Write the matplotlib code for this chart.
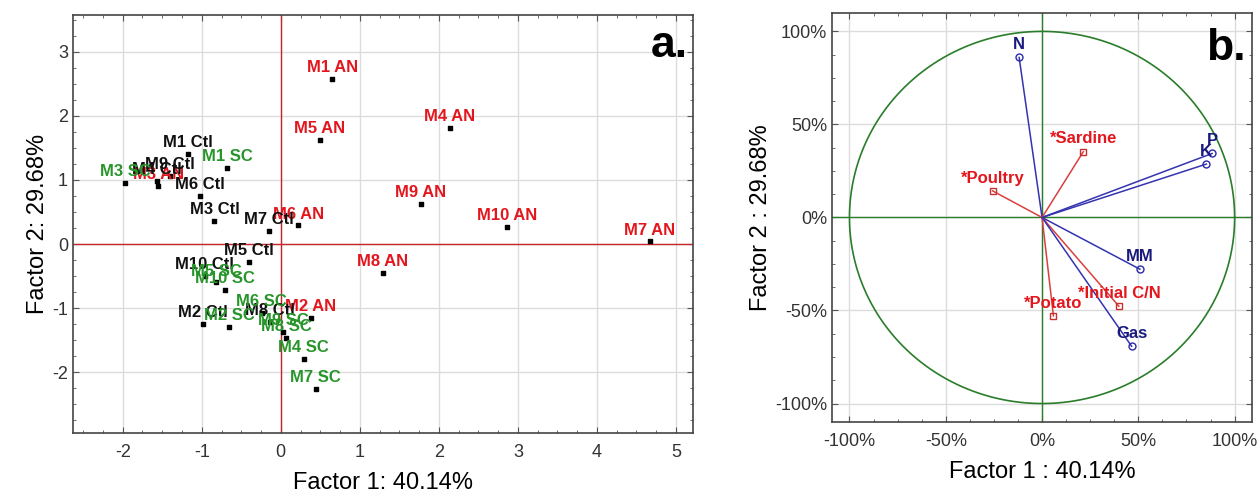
import numpy as np
import matplotlib
matplotlib.use('Agg')
import matplotlib.pyplot as plt
from matplotlib.ticker import FuncFormatter, AutoMinorLocator

plt.rcParams['font.family'] = ['Liberation Sans', 'DejaVu Sans']
plt.rcParams['axes.unicode_minus'] = False

# scores of the samples (panel a)
samples = ['M1 AN', 'M5 AN', 'M4 AN', 'M9 AN', 'M10 AN', 'M7 AN', 'M6 AN', 'M8 AN', 'M2 AN', 'M3 AN',
           'M1 Ctl', 'M9 Ctl', 'M4 Ctl', 'M6 Ctl', 'M3 Ctl', 'M7 Ctl', 'M5 Ctl', 'M10 Ctl', 'M2 Ctl', 'M8 Ctl',
           'M1 SC', 'M3 SC', 'M5 SC', 'M10 SC', 'M2 SC', 'M6 SC', 'M9 SC', 'M8 SC', 'M4 SC', 'M7 SC']
factor1 = [0.65, 0.49, 2.14, 1.77, 2.86, 4.67, 0.22, 1.29, 0.38, -1.55,
           -1.17, -1.40, -1.57, -1.02, -0.84, -0.15, -0.40, -0.96, -0.98, -0.14,
           -0.68, -1.97, -0.82, -0.71, -0.65, -0.24, 0.03, 0.07, 0.29, 0.44]
factor2 = [2.58, 1.63, 1.81, 0.63, 0.27, 0.04, 0.29, -0.45, -1.16, 0.91,
           1.40, 1.06, 0.98, 0.75, 0.36, 0.20, -0.28, -0.50, -1.25, -1.22,
           1.19, 0.95, -0.60, -0.72, -1.30, -1.08, -1.38, -1.46, -1.80, -2.27]
groups = ['AN'] * 10 + ['Ctl'] * 10 + ['SC'] * 10

# loadings of the variables (panel b)
variables = ['N', '*Sardine', '*Poultry', 'P', 'K', 'MM', '*Initial C/N', '*Potato', 'Gas']
load1 = [-0.119, 0.214, -0.257, 0.883, 0.853, 0.508, 0.399, 0.059, 0.465]
load2 = [0.86, 0.353, 0.143, 0.344, 0.287, -0.278, -0.477, -0.529, -0.692]
supplementary = [False, True, True, False, False, False, True, True, False]

group_colors = {'AN': '#e3161d', 'Ctl': '#111111', 'SC': '#27952a'}

fig = plt.figure(figsize=(12.57, 4.92), dpi=100)
ax1 = fig.add_axes([0.058, 0.12, 0.493, 0.85])
ax2 = fig.add_axes([0.662, 0.142, 0.334, 0.832])

# ---- panel a
ax1.grid(True, color='#dcdcdc', lw=1, zorder=0)
ax1.axvline(0, color='#c8242b', lw=1, zorder=1)
ax1.axhline(0, color='#c8242b', lw=1, zorder=1)
ax1.scatter(factor1, factor2, marker='s', s=9, color='black', zorder=3)
for name, x, y, g in zip(samples, factor1, factor2, groups):
    ax1.annotate(name, (x, y), xytext=(0, 5), textcoords='offset points',
                 ha='center', va='baseline', fontsize=12, fontweight='bold',
                 color=group_colors[g], zorder=4)
ax1.set_xlim(-2.63, 5.21)
ax1.set_ylim(-2.95, 3.58)
ax1.set_xticks(range(-2, 6))
ax1.set_yticks(range(-2, 4))
ax1.set_xlabel('Factor 1: 40.14%', fontsize=17, labelpad=8)
ax1.set_ylabel('Factor 2: 29.68%', fontsize=17, labelpad=2)
ax1.text(0.992, 0.90, 'a.', transform=ax1.transAxes, ha='right', va='baseline',
         fontsize=32, fontweight='bold')

# ---- panel b
ax2.grid(True, color='#dcdcdc', lw=1, zorder=0)
ax2.axvline(0, color='#2a7d2a', lw=1, zorder=1)
ax2.axhline(0, color='#2a7d2a', lw=1, zorder=1)
t = np.linspace(0, 2 * np.pi, 400)
ax2.plot(np.cos(t), np.sin(t), color='#2a7d2a', lw=1.2, zorder=2)
for name, x, y, sup in zip(variables, load1, load2, supplementary):
    if sup:
        lc, mc, tc, mk = '#d8403f', '#c8302f', '#e3161d', 's'
    else:
        lc, mc, tc, mk = '#3434b0', '#2a2aa8', '#1a1a7e', 'o'
    ax2.plot([0, x], [0, y], color=lc, lw=1.1, zorder=3)
    ax2.plot(x, y, marker=mk, ms=5, mfc='none', mec=mc, mew=1, zorder=4)
    ax2.annotate(name, (x, y), xytext=(0, 6), textcoords='offset points',
                 ha='center', va='baseline', fontsize=12, fontweight='bold',
                 color=tc, zorder=5)
ax2.set_xlim(-1.09, 1.09)
ax2.set_ylim(-1.1, 1.1)
ax2.set_xticks([-1, -0.5, 0, 0.5, 1])
ax2.set_yticks([-1, -0.5, 0, 0.5, 1])
pct = FuncFormatter(lambda v, p: '%d%%' % round(v * 100))
ax2.xaxis.set_major_formatter(pct)
ax2.yaxis.set_major_formatter(pct)
ax2.set_xlabel('Factor 1 : 40.14%', fontsize=17, labelpad=8)
ax2.set_ylabel('Factor 2 : 29.68%', fontsize=17, labelpad=2)
ax2.text(0.985, 0.885, 'b.', transform=ax2.transAxes, ha='right', va='baseline',
         fontsize=32, fontweight='bold')

for ax in (ax1, ax2):
    ax.set_axisbelow(True)
    ax.xaxis.set_minor_locator(AutoMinorLocator(4))
    ax.yaxis.set_minor_locator(AutoMinorLocator(4))
    ax.tick_params(which='both', direction='in', top=True, right=True,
                   labelsize=13, labelcolor='#333333', color='#555555')
    ax.tick_params(which='major', length=4)
    ax.tick_params(which='minor', length=2)
    ax.tick_params(axis='x', pad=8)
    for s in ax.spines.values():
        s.set_color('#444444')
        s.set_linewidth(1.2)

fig.savefig('out.png', dpi=100)
